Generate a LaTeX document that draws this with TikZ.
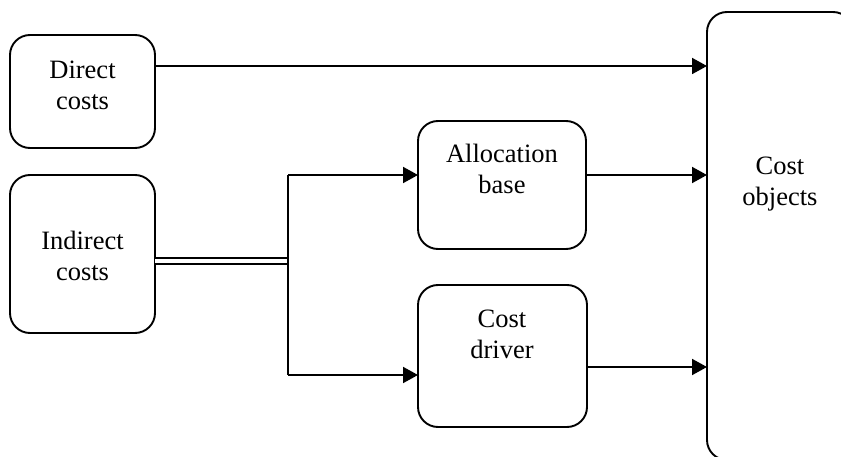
\documentclass[tikz,border=0pt]{standalone}
\usepackage{fontspec}
\setmainfont{Liberation Serif}
\usetikzlibrary{arrows.meta}
\begin{document}
\begin{tikzpicture}[x=1pt,y=-1pt,
  box/.style={draw, line width=1.9pt, rounded corners=20pt, outer sep=0pt, inner sep=0pt},
  lbl/.style={align=center, font=\fontsize{26.5}{31}\selectfont, inner sep=0pt},
  conn/.style={line width=1.9pt, -{Triangle[length=15pt,width=16pt]}},
  wire/.style={line width=1.9pt}]
\useasboundingbox (0,0) rectangle (841,457);
% boxes
\node[box, minimum width=145pt, minimum height=113pt] (direct) at (82.5,91.5) {};
\node[box, minimum width=145pt, minimum height=158pt] (indirect) at (82.5,254) {};
\node[box, minimum width=168pt, minimum height=128pt] (alloc) at (502,185) {};
\node[box, minimum width=169pt, minimum height=142pt] (driver) at (502.5,356) {};
\node[box, minimum width=146pt, minimum height=448pt] (objects) at (780,236) {};
% labels
\node[lbl] (tdirect) at (82.5,85) {Direct\\costs};
\node[lbl] (tindirect) at (82.5,256) {Indirect\\costs};
\node[lbl] (talloc) at (502,169) {Allocation\\base};
\node[lbl] (tdriver) at (502,334) {Cost\\driver};
\node[lbl] (tobjects) at (780,184) {Cost\\objects};
% junction points
\coordinate (jm) at (288,261);
\coordinate (ja) at (288,175);
\coordinate (jb) at (288,375);
% connectors
\draw[conn] (direct.east |- 0,66) -- (objects.west |- 0,66);
\draw[conn] (alloc.east |- 0,175) -- (objects.west |- 0,175);
\draw[conn] (driver.east |- 0,367) -- (objects.west |- 0,367);
\draw[wire, double, double distance=4pt] (indirect.east |- jm) -- (jm);
\draw[wire] (ja) -- (jb);
\draw[conn] (ja) -- (alloc.west |- ja);
\draw[conn] (jb) -- (driver.west |- jb);
\end{tikzpicture}
\end{document}
